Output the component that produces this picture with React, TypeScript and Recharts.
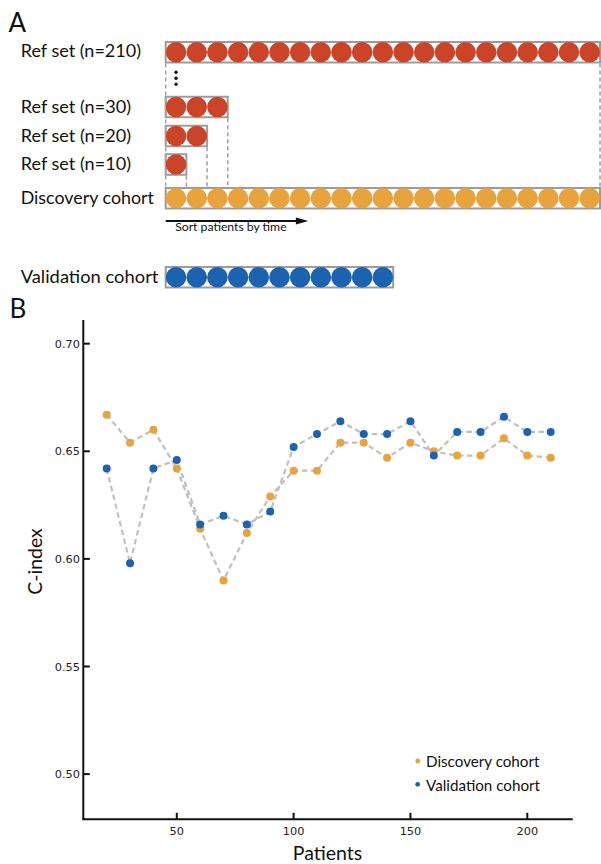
import React from 'react';
import {
  ScatterChart,
  Scatter,
  XAxis,
  YAxis,
  ReferenceArea,
  ReferenceLine,
  ReferenceDot,
  ComposedChart,
  Line,
  Legend,
} from 'recharts';

// ---------- Panel B data ----------
const patientCounts = [20, 30, 40, 50, 60, 70, 80, 90, 100, 110, 120, 130, 140, 150, 160, 170, 180, 190, 200, 210];
const discoveryCIndex = [0.667, 0.654, 0.66, 0.642, 0.614, 0.59, 0.612, 0.629, 0.641, 0.641, 0.654, 0.654, 0.647, 0.654, 0.65, 0.648, 0.648, 0.656, 0.648, 0.647];
const validationCIndex = [0.642, 0.598, 0.642, 0.646, 0.616, 0.62, 0.616, 0.622, 0.652, 0.658, 0.664, 0.658, 0.658, 0.664, 0.648, 0.659, 0.659, 0.666, 0.659, 0.659];
const xTickValues = [50, 100, 150, 200];
const yTickValues = [0.5, 0.55, 0.6, 0.65, 0.7];
const seriesNames = ['Discovery cohort', 'Validation cohort'];
const xTitle = 'Patients';
const yTitle = 'C-index';

// ---------- Panel A data ----------
const rowLabels = ['Ref set (n=210)', 'Ref set (n=30)', 'Ref set (n=20)', 'Ref set (n=10)', 'Discovery cohort', 'Validation cohort'];
const rowPatients = [210, 30, 20, 10, 210, 110];
const rowKinds = ['ref', 'ref', 'ref', 'ref', 'discovery', 'validation'];
const patientsPerCircle = 10;
const arrowLabel = 'Sort patients by time';
const arrowPatients = 69;

// ---------- styles / layout ----------
const FONT = 'Lato, "Open Sans", sans-serif';
const TICK_FONT = '"DejaVu Sans", sans-serif';
const RED = '#cc4428';
const ORANGE = '#e8a33c';
const BLUE = '#1b63b1';
const BOX = '#9c9c9c';
const DASH = '#a3a3a3';
const LINE_GRAY = '#bfbfbf';
const KIND_COLOR: Record<string, string> = { ref: RED, discovery: ORANGE, validation: BLUE };
const ROW_Y = [52.2, 107, 136, 164.5, 198.3, 277.2];
const ROW_LABEL_WIDTH = [120.3, 110.3, 110.3, 110.3, 133.3, 137.7];
const BOX_HALF = 10.2;
const CIRCLE_R = 10.3;
const ELLIPSIS_Y = [72.3, 78.3, 84.3];
const ARROW_Y = 221;

const ArrowShape = (p: any) => {
  const { x1, y1, x2 } = p;
  const head = 12.5;
  return (
    <g>
      <line x1={x1} y1={y1} x2={x2 - head + 1} y2={y1} stroke="#111" strokeWidth={2} />
      <polygon points={`${x2},${y1} ${x2 - head},${y1 - 3.6} ${x2 - head},${y1 + 3.6}`} fill="#111" />
    </g>
  );
};

function PanelA() {
  const rows = rowPatients.map((n, r) => ({
    n,
    y: ROW_Y[r],
    color: KIND_COLOR[rowKinds[r]],
    points: Array.from({ length: n / patientsPerCircle }, (_, i) => ({
      x: i * patientsPerCircle + patientsPerCircle / 2,
      y: ROW_Y[r],
    })),
  }));
  const edge = BOX_HALF + 1;
  const discTop = ROW_Y[4] - edge;
  const connectors = [
    { x: 0, y1: ROW_Y[0] + edge, y2: discTop },
    { x: rowPatients[3], y1: ROW_Y[3] + edge, y2: discTop },
    { x: rowPatients[2], y1: ROW_Y[2] + edge, y2: discTop },
    { x: rowPatients[1], y1: ROW_Y[1] + edge, y2: discTop },
    { x: rowPatients[0], y1: ROW_Y[0] + edge, y2: discTop },
  ];
  return (
    <ScatterChart width={601} height={300} margin={{ top: 0, right: 1, bottom: 0, left: 165.7 }}>
      <XAxis type="number" dataKey="x" domain={[0, 210]} hide allowDataOverflow />
      <YAxis type="number" dataKey="y" domain={[0, 300]} reversed hide width={0} allowDataOverflow />
      {connectors.map((c, i) => (
        <ReferenceLine
          key={'c' + i}
          segment={[{ x: c.x, y: c.y1 }, { x: c.x, y: c.y2 }]}
          stroke={DASH}
          strokeWidth={1.6}
          strokeDasharray="4 3"
          ifOverflow="visible"
        />
      ))}
      {rows.map((r, i) => (
        <ReferenceArea
          key={'b' + i}
          x1={0}
          x2={r.n}
          y1={r.y - BOX_HALF}
          y2={r.y + BOX_HALF}
          fill="#ffffff"
          fillOpacity={1}
          stroke={BOX}
          strokeWidth={2}
          ifOverflow="visible"
        />
      ))}
      {rows.map((r, i) => (
        <Scatter
          key={'s' + i}
          data={r.points}
          fill={r.color}
          isAnimationActive={false}
          shape={(p: any) => <circle cx={p.cx} cy={p.cy} r={CIRCLE_R} fill={r.color} />}
        />
      ))}
      {ELLIPSIS_Y.map((y, i) => (
        <ReferenceDot key={'e' + i} x={patientsPerCircle / 2} y={y} r={1.7} fill="#111" stroke="none" ifOverflow="visible" />
      ))}
      <ReferenceLine
        segment={[{ x: 0, y: ARROW_Y }, { x: arrowPatients, y: ARROW_Y }]}
        shape={ArrowShape}
        ifOverflow="visible"
      />
    </ScatterChart>
  );
}

const XTick = (p: any) => {
  const { x, y, payload } = p;
  return (
    <g>
      <line x1={x} x2={x} y1={y} y2={y - 6.5} stroke="#111" strokeWidth={2} />
      <text x={x} y={y + 15.5} textAnchor="middle" fontFamily={TICK_FONT} fontSize={11.3} fill="#222">
        {payload.value}
      </text>
    </g>
  );
};

const YTick = (p: any) => {
  const { x, y, payload } = p;
  return (
    <g>
      <line x1={x} x2={x + 6.5} y1={y} y2={y} stroke="#111" strokeWidth={2} />
      <text x={x - 3.3} y={y + 4.1} textAnchor="end" fontFamily={TICK_FONT} fontSize={11.3} fill="#222">
        {Number(payload.value).toFixed(2)}
      </text>
    </g>
  );
};

const legendColors = [ORANGE, BLUE];

const LegendContent = () => (
  <svg width={190} height={55} style={{ display: 'block' }}>
    {seriesNames.map((name, i) => (
      <g key={name}>
        <circle cx={7.7} cy={16 + i * 23.3} r={2.4} fill={legendColors[i]} />
        <text x={16} y={22.3 + i * 23.4} fontFamily={FONT} fontSize={15.2} fill="#111">
          {name}
        </text>
      </g>
    ))}
  </svg>
);

function PanelB() {
  const data = patientCounts.map((x, i) => ({ x, disc: discoveryCIndex[i], val: validationCIndex[i] }));
  return (
    <ComposedChart width={601} height={864} data={data} margin={{ top: 320, right: 29.3, bottom: 14.7, left: 23.3 }}>
      <XAxis
        type="number"
        dataKey="x"
        domain={[10, 219]}
        ticks={xTickValues}
        interval={0}
        allowDataOverflow
        height={30}
        axisLine={{ stroke: '#111', strokeWidth: 2, strokeLinecap: 'square' }}
        tickLine={false}
        tickSize={0}
        tickMargin={0}
        tick={<XTick />}
      />
      <YAxis
        type="number"
        domain={[0.479, 0.711]}
        ticks={yTickValues}
        interval={0}
        allowDataOverflow
        width={60}
        axisLine={{ stroke: '#111', strokeWidth: 2 }}
        tickLine={false}
        tickSize={0}
        tickMargin={0}
        tick={<YTick />}
      />
      <Line dataKey="disc" stroke={LINE_GRAY} strokeWidth={2.2} strokeDasharray="5.5 3.5" dot={false} activeDot={false} legendType="none" isAnimationActive={false} />
      <Line dataKey="val" stroke={LINE_GRAY} strokeWidth={2.2} strokeDasharray="5.5 3.5" dot={false} activeDot={false} legendType="none" isAnimationActive={false} />
      <Line dataKey="disc" name={seriesNames[0]} stroke="none" dot={{ r: 4, fill: ORANGE, stroke: 'none', strokeWidth: 0 }} activeDot={false} isAnimationActive={false} />
      <Line dataKey="val" name={seriesNames[1]} stroke="none" dot={{ r: 4, fill: BLUE, stroke: 'none', strokeWidth: 0 }} activeDot={false} isAnimationActive={false} />
      <Legend
        layout="vertical"
        align="center"
        verticalAlign="middle"
        content={() => <LegendContent />}
        wrapperStyle={{ left: 410, top: 745, width: 190, height: 55, bottom: 'auto', right: 'auto' }}
      />
    </ComposedChart>
  );
}

function Labels() {
  const labelBase = [4.6, 5.5, 5.5, 5.5, 5.8, 6.1];
  return (
    <svg width={601} height={864} style={{ position: 'absolute', left: 0, top: 0, pointerEvents: 'none' }}>
      <text x={8.5} y={32.3} fontFamily={FONT} fontSize={26} fill="#111">A</text>
      <text x={9.5} y={317.5} fontFamily={FONT} fontSize={26} fill="#111">B</text>
      {rowLabels.map((t, i) => (
        <text
          key={t}
          x={20.7}
          y={ROW_Y[i] + labelBase[i]}
          fontFamily={FONT}
          fontSize={17.6}
          fill="#111"
          textLength={ROW_LABEL_WIDTH[i]}
          lengthAdjust="spacingAndGlyphs"
        >
          {t}
        </text>
      ))}
      <text x={230.9} y={230.6} textAnchor="middle" fontFamily={FONT} fontSize={12.2} fill="#111">
        {arrowLabel}
      </text>
      <text x={327.5} y={859.5} textAnchor="middle" fontFamily={FONT} fontSize={19.5} fill="#111">
        {xTitle}
      </text>
      <text transform="translate(41.5,561.5) rotate(-90)" textAnchor="middle" fontFamily={FONT} fontSize={19.5} fill="#111">
        {yTitle}
      </text>
    </svg>
  );
}

export default function App() {
  return (
    <div style={{ position: 'absolute', left: 0, top: 0, width: 601, height: 864, background: '#fff', overflow: 'hidden' }}>
      <div style={{ position: 'absolute', left: 0, top: 0 }}>
        <PanelB />
      </div>
      <div style={{ position: 'absolute', left: 0, top: 0 }}>
        <PanelA />
      </div>
      <Labels />
    </div>
  );
}
